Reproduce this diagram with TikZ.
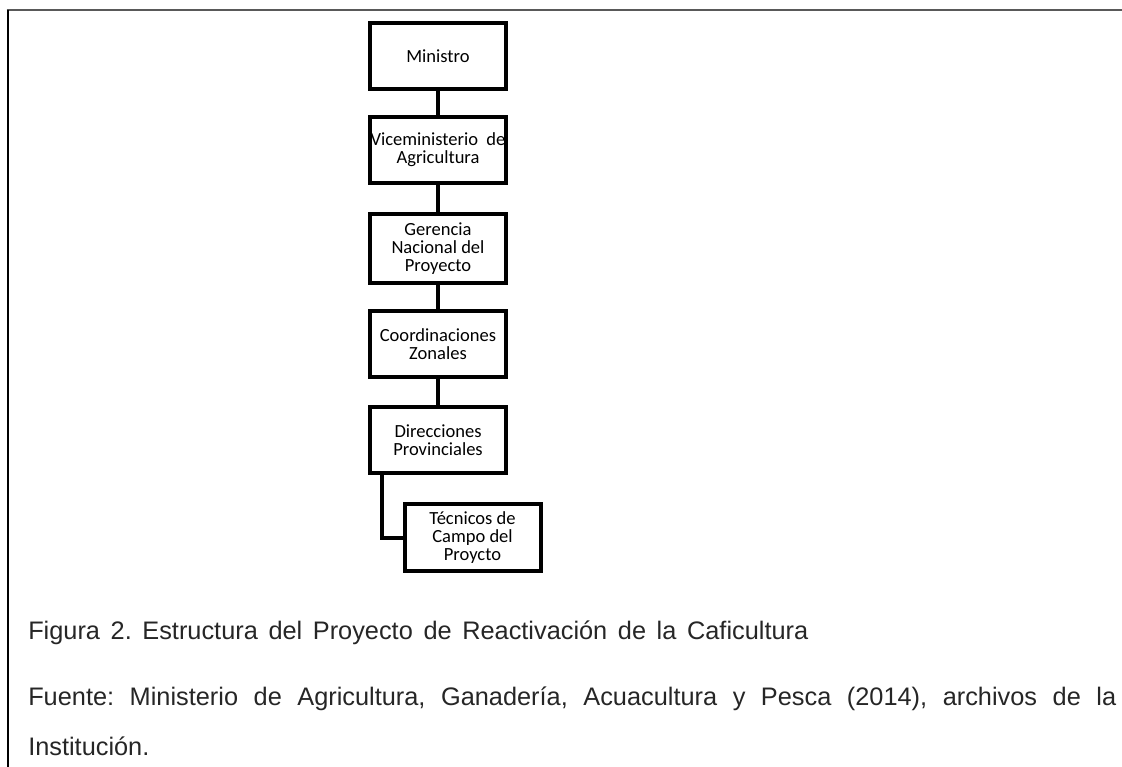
\documentclass[tikz,border=0pt]{standalone}
\usepackage{fontspec}
\setmainfont{Liberation Sans}
\newfontfamily\boxfont{Carlito}
\usetikzlibrary{positioning}
\frenchspacing

\begin{document}
\begin{tikzpicture}[x=0.75pt,y=-0.75pt,every node/.style={align=center},
  unit/.style={draw,line width=3pt,minimum width=102pt,minimum height=50pt,inner sep=0pt,
    font=\boxfont\fontsize{13.9}{13.5}\selectfont},
  link/.style={line width=3pt},
  capt/.style={anchor=base west,inner sep=0pt,text=black!85,font=\fontsize{19}{37.5}\selectfont}]
\useasboundingbox (0,0) rectangle (1122,767);
% frame
\draw[line width=1.5pt,black!65] (6.5,10)--(1122,10);
\draw[line width=1.5pt] (7.5,10)--(7.5,767);
% chain of units
\node[unit] (m) at (438,56) {Ministro};
\node[unit] (v) at (438,150) {Viceministerio~~de\\Agricultura};
\node[unit,minimum height=52pt] (g) at (438,248.5) {Gerencia\\Nacional del\\Proyecto};
\node[unit] (c) at (438,344) {Coordinaciones\\Zonales};
\node[unit] (d) at (438,440) {Direcciones\\Provinciales};
\node[unit] (t) at (472.5,537.5) {Técnicos de\\Campo del\\Proycto};
\draw[link] (m)--(v);
\draw[link] (v)--(g);
\draw[link] (g)--(c);
\draw[link] (c)--(d);
\draw[link] ([xshift=10.5pt]d.south west)|-(t.west);
% caption
\node[capt] (fig) at (28,639) {\makebox[585pt][s]{Figura 2. Estructura del Proyecto de Reactivación de la Caficultura}};
\node[capt,text width=816pt,align=justify] (src) at (28,705)
  {Fuente: Ministerio de Agricultura, Ganadería, Acuacultura y Pesca (2014), archivos de la\linebreak Institución.};
\end{tikzpicture}
\end{document}
